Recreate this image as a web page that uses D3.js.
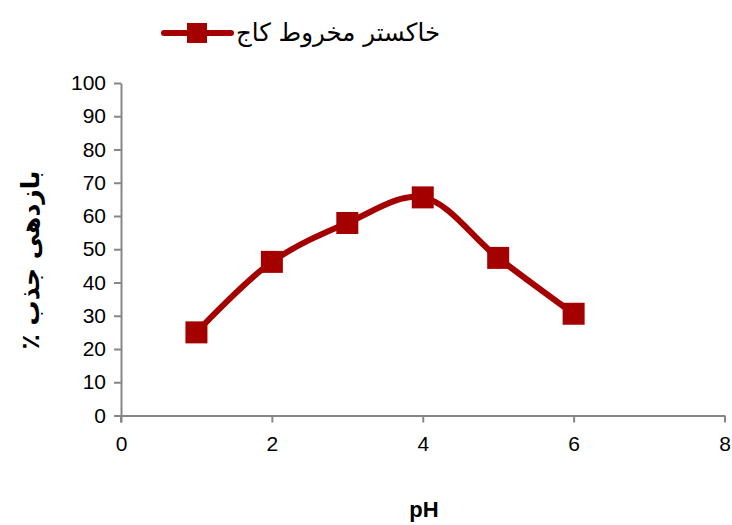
<!DOCTYPE html>
<html>
<head>
<meta charset="utf-8">
<script src="https://cdn.jsdelivr.net/npm/d3@7"></script>
<style>
  html, body { margin: 0; padding: 0; background: #fff; }
  svg { display: block; }
</style>
</head>
<body>
<svg id="chart" width="732" height="525"></svg>
<script>
// pH values and adsorption efficiency (%)
const phValues = [1, 2, 3, 4, 5, 6];
const efficiency = [25, 46.2, 57.9, 65.6, 47.4, 30.6];
const seriesName = "خاکستر مخروط کاج";
const xTicks = [0, 2, 4, 6, 8];
const yTicks = [0, 10, 20, 30, 40, 50, 60, 70, 80, 90, 100];
const xTitle = "pH";
const yTitle = "بازدهی جذب ٪";

const red = "#a50000";
const axisColor = "#868686";
const svg = d3.select("#chart");

const x = d3.scaleLinear().domain([0, 8]).range([121, 724.5]);
const y = d3.scaleLinear().domain([0, 100]).range([415.5, 83]);

// Y axis
const yAxis = svg.append("g")
  .attr("transform", `translate(${x(0)},0)`)
  .call(d3.axisLeft(y).tickValues(yTicks).tickSize(7).tickPadding(8).tickSizeOuter(0));
// X axis
const xAxis = svg.append("g")
  .attr("transform", `translate(0,${y(0)})`)
  .call(d3.axisBottom(x).tickValues(xTicks).tickSize(7).tickPadding(14).tickSizeOuter(0));

[xAxis, yAxis].forEach(g => {
  g.select(".domain").attr("stroke", axisColor).attr("stroke-width", 2);
  g.selectAll(".tick line").attr("stroke", axisColor).attr("stroke-width", 2);
  g.selectAll(".tick text")
    .attr("fill", "#000")
    .style("font-family", "'Liberation Sans', Arial, sans-serif")
    .style("font-size", "21px");
});
// small cross below the origin
svg.append("line")
  .attr("x1", x(0)).attr("x2", x(0))
  .attr("y1", y(0)).attr("y2", y(0) + 7)
  .attr("stroke", axisColor).attr("stroke-width", 2);

// Smoothed series line
const pts = phValues.map((p, i) => [p, efficiency[i]]);
const line = d3.line()
  .x(d => x(d[0]))
  .y(d => y(d[1]))
  .curve(d3.curveCatmullRom.alpha(0.5));
svg.append("path")
  .datum(pts)
  .attr("d", line)
  .attr("fill", "none")
  .attr("stroke", red)
  .attr("stroke-width", 6)
  .attr("stroke-linejoin", "round");

// Square markers
const ms = 22;
svg.selectAll("rect.marker")
  .data(pts)
  .join("rect")
  .attr("class", "marker")
  .attr("x", d => x(d[0]) - ms / 2)
  .attr("y", d => y(d[1]) - ms / 2)
  .attr("width", ms)
  .attr("height", ms)
  .attr("fill", red);

// Legend
const lg = svg.append("g");
lg.append("line")
  .attr("x1", 164).attr("x2", 231)
  .attr("y1", 33).attr("y2", 33)
  .attr("stroke", red).attr("stroke-width", 6).attr("stroke-linecap", "round");
lg.append("rect")
  .attr("x", 197 - 10).attr("y", 33 - 10)
  .attr("width", 20).attr("height", 20)
  .attr("fill", red);
lg.append("text")
  .attr("x", 440).attr("y", 41)
  .attr("text-anchor", "start")
  .attr("direction", "rtl")
  .attr("textLength", 204)
  .attr("lengthAdjust", "spacingAndGlyphs")
  .style("font-family", "'DejaVu Sans', sans-serif")
  .style("font-size", "25px")
  .attr("fill", "#000")
  .text(seriesName);

// Axis titles
svg.append("text")
  .attr("x", 424).attr("y", 517)
  .attr("text-anchor", "middle")
  .style("font-family", "'Liberation Sans', Arial, sans-serif")
  .style("font-size", "22px")
  .style("font-weight", "bold")
  .text(xTitle);

svg.append("text")
  .attr("transform", "translate(39,260) rotate(-90)")
  .attr("text-anchor", "middle")
  .attr("direction", "rtl")
  .style("font-family", "'DejaVu Sans', sans-serif")
  .style("font-size", "25px")
  .style("font-weight", "bold")
  .text(yTitle);
</script>
</body>
</html>
